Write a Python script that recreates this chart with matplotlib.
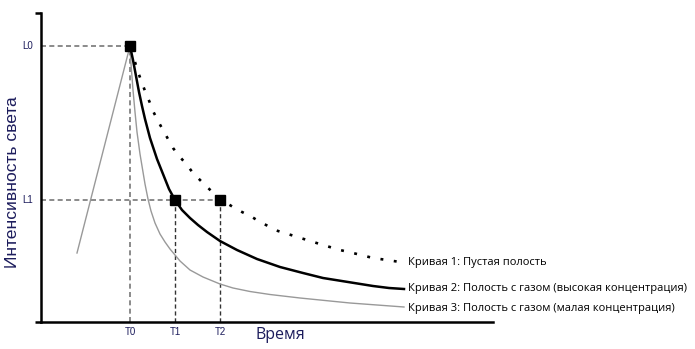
import matplotlib
matplotlib.use("Agg")
import matplotlib.pyplot as plt

# Values (arbitrary units: time on x, intensity on y)
t_marks = [89, 134, 179]            # T0, T1, T2
t_labels = ["T0", "T1", "T2"]
l_marks = [276, 122]                # L0, L1
l_labels = ["L0", "L1"]

curve1_x = [89, 94, 97, 104, 109, 112, 117, 122, 127, 132, 139, 146, 152, 166, 179, 192, 201, 211,
            219, 229, 237, 250, 266, 282, 299, 316, 332, 346, 359]
curve1_y = [276, 260, 250, 231, 219, 211, 201, 192, 183, 174, 165, 157, 149, 135, 123, 115, 110, 105,
            100, 95, 91, 87, 82, 77, 72, 68, 64, 62, 60]

curve2_x = [89, 92, 95, 98, 101, 104, 109, 116, 122, 128, 134, 141, 149, 157, 166, 179, 196, 216,
            239, 262, 282, 307, 332, 348, 363]
curve2_y = [276, 262, 246, 230, 216, 203, 184, 163, 148, 133, 122, 112, 104, 97, 90, 81, 72, 63,
            55, 49, 44, 40, 36, 34, 33]

curve3_x = [36, 89, 90, 92, 94, 96, 99, 102, 104, 107, 110, 114, 119, 124, 129, 134, 139, 149, 162,
            179, 192, 209, 229, 259, 309, 363]
curve3_y = [69, 276, 258, 232, 210, 190, 168, 150, 138, 123, 111, 99, 88, 80, 73, 67, 61, 52, 45,
            38, 34, 30.5, 27.5, 24, 19, 15]

legend_labels = [
    "Кривая 1: Пустая полость",
    "Кривая 2: Полость с газом (высокая концентрация)",
    "Кривая 3: Полость с газом (малая концентрация)",
]
legend_y = [60, 33, 13]

navy = "#1c1c5c"

fig = plt.figure(figsize=(6.95, 3.49), dpi=100)
ax = fig.add_axes([41 / 695, 27 / 349, 452 / 695, 309 / 349])
ax.set_xlim(0, 452)
ax.set_ylim(0, 309)

# reference lines
ax.plot([0, t_marks[0]], [l_marks[0], l_marks[0]], color="#777777", lw=1.2, ls=(0, (3, 2)))
ax.plot([0, t_marks[2]], [l_marks[1], l_marks[1]], color="#777777", lw=1.2, ls=(0, (3, 2)))
ax.plot([t_marks[0], t_marks[0]], [0, l_marks[0]], color="#777777", lw=1.2, ls=(0, (3, 2)))
ax.plot([t_marks[1], t_marks[1]], [0, l_marks[1]], color="#333333", lw=1.0, ls=(0, (3, 2)))
ax.plot([t_marks[2], t_marks[2]], [0, l_marks[1]], color="#333333", lw=1.0, ls=(0, (3, 2)))

# curves
ax.plot(curve3_x, curve3_y, color="#999999", lw=1.0, solid_joinstyle="round")
ax.plot(curve2_x, curve2_y, color="black", lw=1.8, solid_joinstyle="round")
ax.plot(curve1_x[1:], curve1_y[1:], color="black", lw=1.9, ls=(0, (1.1, 4.0)))

# markers
ax.plot([t_marks[0], t_marks[1], t_marks[2]], [l_marks[0], l_marks[1], l_marks[1]],
        ls="none", marker="s", ms=6.8, color="black")

# labels at curve ends
for lab, yy in zip(legend_labels, legend_y):
    ax.text(367, yy, lab, fontsize=8.05, family="Open Sans", va="center", ha="left", color="black")

for t, lab in zip(t_marks, t_labels):
    ax.text(t, -10, lab, fontsize=7, family="Liberation Sans", ha="center", va="center", color=navy)
for l, lab in zip(l_marks, l_labels):
    ax.text(-8, l, lab, fontsize=7, family="Liberation Sans", ha="right", va="center", color=navy)

ax.text(239, -13, "Время", fontsize=11.5, family="Open Sans", ha="center", va="center", color=navy)
fig.text(13 / 695, 1 - 182 / 349, "Интенсивность света", rotation=90, fontsize=12.6,
         family="Liberation Sans", ha="center", va="center", color=navy)

for s in ["top", "right"]:
    ax.spines[s].set_visible(False)
for s in ["left", "bottom"]:
    ax.spines[s].set_linewidth(1.8)
ax.set_xticks([])
ax.set_yticks([0, 309])
ax.set_yticklabels([])
ax.tick_params(axis="y", length=4, width=1.8, direction="out")

fig.savefig("out.png", dpi=100)
